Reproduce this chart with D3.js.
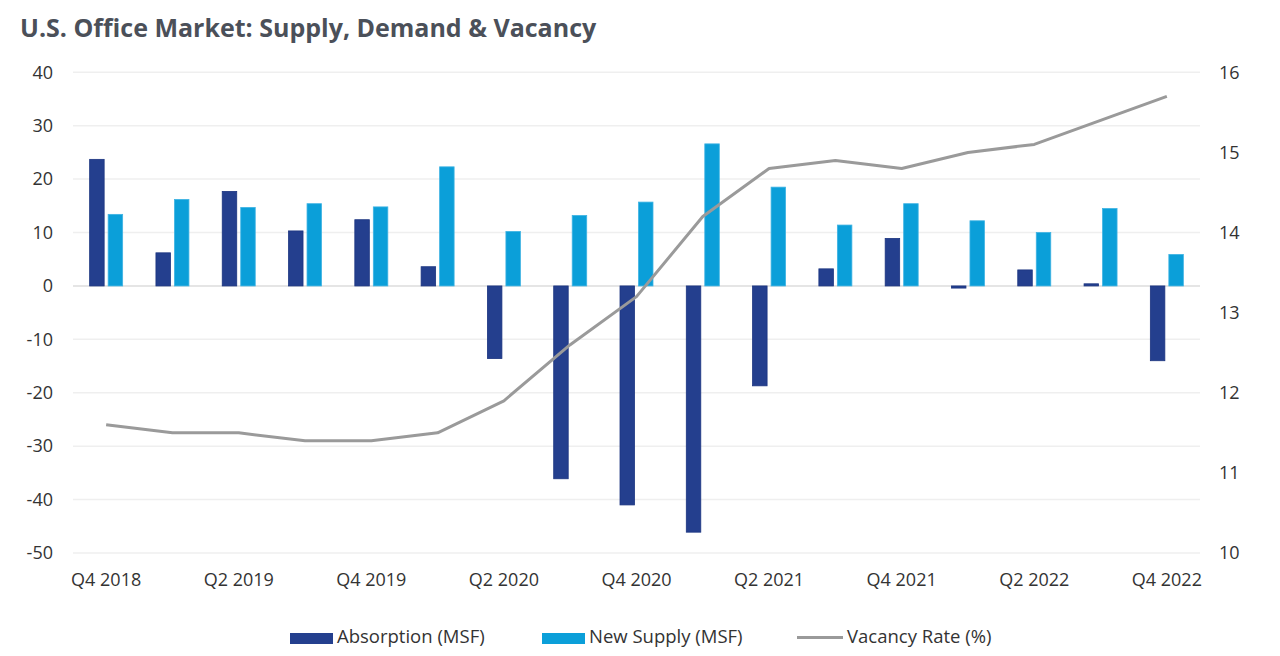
<!DOCTYPE html>
<html><head><meta charset="utf-8">
<script src="https://cdnjs.cloudflare.com/ajax/libs/d3/7.8.5/d3.min.js"></script>
<style>
body{margin:0;background:#fff;}
svg{display:block;font-family:"Open Sans",sans-serif;}
</style></head>
<body>
<svg id="c" width="1280" height="656"></svg>
<script>
const quarters = ["Q4 2018","Q1 2019","Q2 2019","Q3 2019","Q4 2019","Q1 2020","Q2 2020","Q3 2020","Q4 2020","Q1 2021","Q2 2021","Q3 2021","Q4 2021","Q1 2022","Q2 2022","Q3 2022","Q4 2022"];
const absorption = [23.7,6.2,17.7,10.3,12.4,3.6,-13.6,-36.1,-41.0,-46.1,-18.7,3.2,8.9,-0.4,3.0,0.4,-14.0];
const newSupply = [13.4,16.2,14.7,15.4,14.8,22.3,10.2,13.2,15.7,26.6,18.5,11.4,15.4,12.2,10.0,14.5,5.9];
const vacancy = [11.6,11.5,11.5,11.4,11.4,11.5,11.9,12.6,13.2,14.2,14.8,14.9,14.8,15.0,15.1,15.4,15.7];
const leftTicks = [40,30,20,10,0,-10,-20,-30,-40,-50];
const rightTicks = [16,15,14,13,12,11,10];
const shownLabels = ["Q4 2018","Q2 2019","Q4 2019","Q2 2020","Q4 2020","Q2 2021","Q4 2021","Q2 2022","Q4 2022"];
const legendLabels = ["Absorption (MSF)","New Supply (MSF)","Vacancy Rate (%)"];

const colAbs = "#243f8e", colSup = "#0b9fd9", colVac = "#9a9a9a";
const svg = d3.select("#c");
const L = 73, R = 1200, T = 72.3, B = 553;

const x = d3.scaleBand().domain(quarters).range([L, R]).padding(0);
const yL = d3.scaleLinear().domain([-50, 40]).range([B, T]);
const yR = d3.scaleLinear().domain([10, 16]).range([B, T]);
const fmt = d => String(d);

// title
svg.append("text").attr("x", 20).attr("y", 37).attr("font-size", 25).attr("font-weight", 700)
  .attr("fill", "#4b5059").text("U.S. Office Market: Supply, Demand & Vacancy");

// gridlines
svg.append("g").selectAll("line").data(leftTicks).join("line")
  .attr("x1", L).attr("x2", R).attr("y1", d => yL(d)).attr("y2", d => yL(d))
  .attr("stroke", d => d === 0 ? "#dcdcdc" : "#efefef").attr("stroke-width", 1.5);

// left axis
const axL = svg.append("g").attr("transform", `translate(${L},0)`)
  .call(d3.axisLeft(yL).tickValues(leftTicks).tickFormat(fmt).tickSize(0).tickPadding(20));
axL.select(".domain").remove();
axL.selectAll("text").attr("font-size", 18).attr("fill", "#333").attr("font-family", "Open Sans");

// right axis
const axR = svg.append("g").attr("transform", `translate(${R},0)`)
  .call(d3.axisRight(yR).tickValues(rightTicks).tickFormat(fmt).tickSize(0).tickPadding(19));
axR.select(".domain").remove();
axR.selectAll("text").attr("font-size", 18).attr("fill", "#333").attr("font-family", "Open Sans");

// x axis
const axX = svg.append("g").attr("transform", `translate(0,${B})`)
  .call(d3.axisBottom(x).tickValues(shownLabels).tickSize(0).tickPadding(20));
axX.select(".domain").remove();
axX.selectAll("text").attr("font-size", 18).attr("fill", "#333").attr("font-family", "Open Sans");

// bars
const bw = 14.5, gap = 4;
const cx = d => x(d) + x.bandwidth() / 2;
svg.append("g").selectAll("rect").data(quarters).join("rect")
  .attr("x", (d) => cx(d) - gap/2 - bw)
  .attr("width", bw)
  .attr("y", (d, i) => yL(Math.max(0, absorption[i])))
  .attr("height", (d, i) => Math.abs(yL(absorption[i]) - yL(0)))
  .attr("fill", colAbs).attr("stroke", "#1c3580").attr("stroke-width", 0.8);
svg.append("g").selectAll("rect").data(quarters).join("rect")
  .attr("x", (d) => cx(d) + gap/2)
  .attr("width", bw)
  .attr("y", (d, i) => yL(Math.max(0, newSupply[i])))
  .attr("height", (d, i) => Math.abs(yL(newSupply[i]) - yL(0)))
  .attr("fill", colSup).attr("stroke", "#3fb3e3").attr("stroke-width", 0.8);

// line
svg.append("path").datum(vacancy)
  .attr("d", d3.line().x((d, i) => cx(quarters[i])).y(d => yR(d)))
  .attr("fill", "none").attr("stroke", colVac).attr("stroke-width", 3).attr("stroke-linejoin", "round");

// legend
const lg = svg.append("g").attr("font-size", 18.5).attr("fill", "#333");
const lx = [290, 542, 797];
lg.append("rect").attr("x", lx[0]).attr("y", 633).attr("width", 43).attr("height", 11).attr("fill", colAbs);
lg.append("rect").attr("x", lx[1]).attr("y", 633).attr("width", 43).attr("height", 11).attr("fill", colSup);
lg.append("line").attr("x1", lx[2]).attr("x2", lx[2] + 46).attr("y1", 637.5).attr("y2", 637.5).attr("stroke", colVac).attr("stroke-width", 3);
lg.selectAll("text").data(legendLabels).join("text")
  .attr("x", (d, i) => lx[i] + (i === 2 ? 50 : 47)).attr("y", 643).text(d => d);
</script>
</body></html>
